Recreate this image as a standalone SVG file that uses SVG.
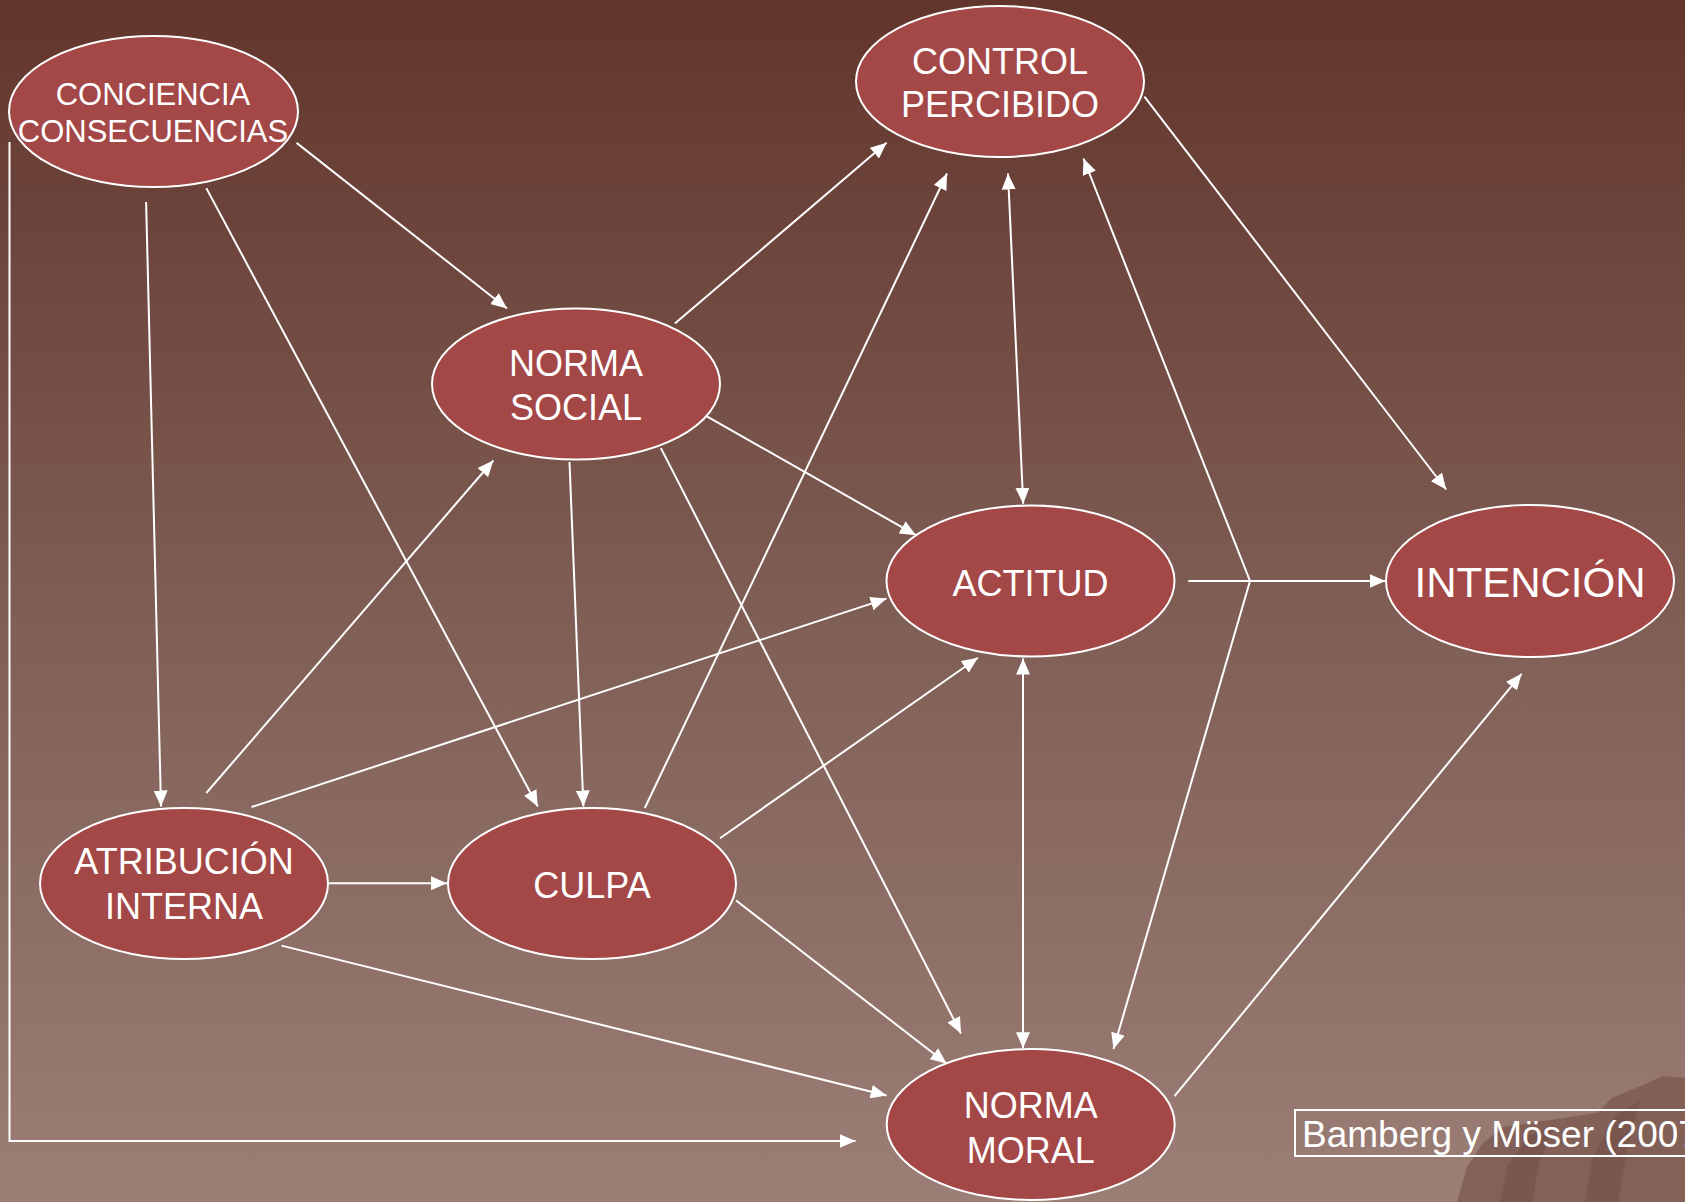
<svg xmlns="http://www.w3.org/2000/svg" width="1685" height="1202" viewBox="0 0 1685 1202">
<defs>
<linearGradient id="bg" x1="0" y1="0" x2="0" y2="1">
<stop offset="0" stop-color="#62352c"/>
<stop offset="0.5" stop-color="#7e5d54"/>
<stop offset="1" stop-color="#9b7e76"/>
</linearGradient>
<marker id="ah" markerUnits="userSpaceOnUse" markerWidth="17" markerHeight="14" refX="16" refY="7" orient="auto-start-reverse" viewBox="0 0 17 14">
<path d="M0,0 L16,7 L0,14 z" fill="#ffffff"/>
</marker>
<style>
.n ellipse{fill:#a34747;stroke:#ffffff;stroke-width:2}
.n text{fill:#ffffff;font-family:"Liberation Sans",Arial,sans-serif;font-size:36px;text-anchor:middle}
.c line,.c polyline{stroke:#ffffff;stroke-width:2;fill:none}
.e{marker-end:url(#ah)}
.b{marker-start:url(#ah);marker-end:url(#ah)}
</style>
</defs>
<rect x="0" y="0" width="1685" height="1202" fill="url(#bg)"/>
<g id="rock">
<polygon points="1457,1202 1467,1167 1483,1143 1503,1127 1550,1120 1597,1113 1612,1098 1643,1085 1663,1076 1685,1078 1685,1202" fill="#7d5a50" opacity="0.8"/>
<polygon points="1500,1202 1508,1165 1530,1135 1555,1125 1540,1160 1532,1202" fill="#6f4c43" opacity="0.45"/>
<polygon points="1585,1202 1592,1160 1615,1115 1640,1100 1628,1145 1618,1202" fill="#6f4c43" opacity="0.45"/>
</g>
<g id="connectors" class="c">
<line class="e" x1="296.6" y1="142.9" x2="507" y2="308.5"/>
<line class="e" x1="206.3" y1="188.1" x2="537.8" y2="806.5"/>
<line class="e" x1="146.1" y1="202" x2="161" y2="806.5"/>
<polyline class="e" points="9.5,142 9.5,1141 855.5,1141"/>
<line class="e" x1="674.9" y1="323.5" x2="886.6" y2="142.8"/>
<line class="e" x1="706" y1="415.9" x2="916" y2="535.2"/>
<line class="e" x1="569.5" y1="462" x2="583.4" y2="806.5"/>
<line class="e" x1="660.9" y1="448.1" x2="961" y2="1033.5"/>
<line class="e" x1="206.3" y1="793" x2="493.3" y2="460.5"/>
<line class="e" x1="251.5" y1="807" x2="886.5" y2="598.6"/>
<line class="e" x1="328.8" y1="883.3" x2="447" y2="883.3"/>
<line class="e" x1="281.5" y1="945.6" x2="886.6" y2="1095.5"/>
<line class="e" x1="644.8" y1="808" x2="947" y2="173.5"/>
<line class="e" x1="720" y1="838.2" x2="977.9" y2="657.7"/>
<line class="e" x1="736.1" y1="900.5" x2="946.5" y2="1063.5"/>
<line class="b" x1="1008" y1="173.5" x2="1023.2" y2="503.8"/>
<line class="e" x1="1144.4" y1="96.7" x2="1446.2" y2="489.5"/>
<line class="e" x1="1188.3" y1="581" x2="1385.5" y2="581"/>
<polyline class="b" points="1083.5,158.5 1250,581 1113.5,1049"/>
<line class="b" x1="1023" y1="658.5" x2="1023" y2="1048.3"/>
<line class="e" x1="1174.5" y1="1096.1" x2="1521.6" y2="673.8"/>
</g>
<g id="conciencia" class="n">
<ellipse cx="153.5" cy="111.5" rx="144.5" ry="75.5"/>
<text x="153" y="105" style="font-size:31px">CONCIENCIA</text>
<text x="153" y="141.5" style="font-size:31px">CONSECUENCIAS</text>
</g>
<g id="control" class="n">
<ellipse cx="1000" cy="81.5" rx="144" ry="75.5"/>
<text x="1000" y="74">CONTROL</text>
<text x="1000" y="117">PERCIBIDO</text>
</g>
<g id="normasocial" class="n">
<ellipse cx="576" cy="384" rx="144" ry="75.5"/>
<text x="576" y="376">NORMA</text>
<text x="576" y="420">SOCIAL</text>
</g>
<g id="actitud" class="n">
<ellipse cx="1030.5" cy="581" rx="144" ry="75.5"/>
<text x="1030.5" y="596">ACTITUD</text>
</g>
<g id="intencion" class="n">
<ellipse cx="1530" cy="581" rx="144" ry="76"/>
<text x="1530" y="597" style="font-size:42px">INTENCIÓN</text>
</g>
<g id="atribucion" class="n">
<ellipse cx="184" cy="883.5" rx="144" ry="75.5"/>
<text x="184" y="874">ATRIBUCIÓN</text>
<text x="184" y="919">INTERNA</text>
</g>
<g id="culpa" class="n">
<ellipse cx="592" cy="883.5" rx="144" ry="75.5"/>
<text x="592" y="898">CULPA</text>
</g>
<g id="normamoral" class="n">
<ellipse cx="1030.7" cy="1124.5" rx="144" ry="75.5"/>
<text x="1030.7" y="1118">NORMA</text>
<text x="1030.7" y="1163">MORAL</text>
</g>
<g id="reference">
<rect x="1295" y="1110" width="420" height="46" fill="none" stroke="#ffffff" stroke-width="2"/>
<text x="1302" y="1146.5" fill="#ffffff" style="font-family:'Liberation Sans',Arial,sans-serif;font-size:37px">Bamberg y Möser (2007)</text>
</g>
</svg>
